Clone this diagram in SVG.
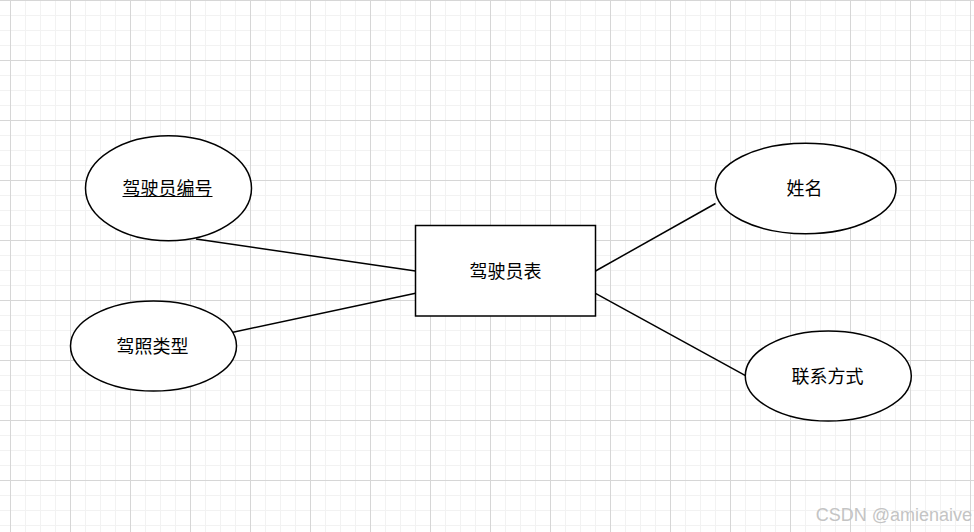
<svg xmlns="http://www.w3.org/2000/svg" width="974" height="532" viewBox="0 0 974 532">
  <defs>
    <pattern id="grid" x="10" y="0" width="60" height="60" patternUnits="userSpaceOnUse">
      <path d="M15.5 0V60M30.5 0V60M45.5 0V60M0 15.5H60M0 30.5H60M0 45.5H60" fill="none" stroke="#f2f2f2" stroke-width="1"/>
      <path d="M0.5 0V60M0 0.5H60" fill="none" stroke="#d6d6d6" stroke-width="1"/>
    </pattern>
    <style>
      .shape { fill: #ffffff; stroke: #000000; stroke-width: 1.5; }
      .edge { fill: none; stroke: #000000; stroke-width: 1.5; }
      .label { font-family: "Noto Sans CJK SC", sans-serif; font-size: 18px; fill: #000000; text-anchor: middle; dominant-baseline: central; }
      .wm { font-family: "Liberation Sans", Arial, sans-serif; font-size: 18px; fill: #c4c4c4; text-anchor: end; }
    </style>
  </defs>
  <rect x="0" y="0" width="974" height="532" fill="#ffffff"/>
  <rect x="0" y="0" width="974" height="532" fill="url(#grid)"/>

  <g id="connectors">
    <line class="edge" x1="196" y1="239" x2="415.5" y2="271"/>
    <line class="edge" x1="230.7" y1="332.7" x2="415.5" y2="293.3"/>
    <line class="edge" x1="595.5" y1="271" x2="715.5" y2="203.5"/>
    <line class="edge" x1="595.5" y1="293.3" x2="745.5" y2="375.7"/>
  </g>

  <g id="node-driver-table">
    <rect class="shape" x="415.5" y="225.5" width="180" height="90.5"/>
    <text class="label" x="505.5" y="270">驾驶员表</text>
  </g>

  <g id="node-driver-id">
    <ellipse class="shape" cx="168.5" cy="188.2" rx="83" ry="52.5"/>
    <text class="label" x="167.5" y="186.5">驾驶员编号</text>
    <line x1="122.5" y1="196.5" x2="212.5" y2="196.5" stroke="#000" stroke-width="1"/>
  </g>

  <g id="node-license-type">
    <ellipse class="shape" cx="153.5" cy="346" rx="83" ry="45"/>
    <text class="label" x="152.5" y="344.5">驾照类型</text>
  </g>

  <g id="node-name">
    <ellipse class="shape" cx="805.7" cy="188.5" rx="90.3" ry="45.2"/>
    <text class="label" x="804.5" y="187">姓名</text>
  </g>

  <g id="node-contact">
    <ellipse class="shape" cx="828.3" cy="376" rx="83" ry="45"/>
    <text class="label" x="827.5" y="374.5">联系方式</text>
  </g>

  <text class="wm" x="972" y="521">CSDN @amienaive</text>
</svg>
